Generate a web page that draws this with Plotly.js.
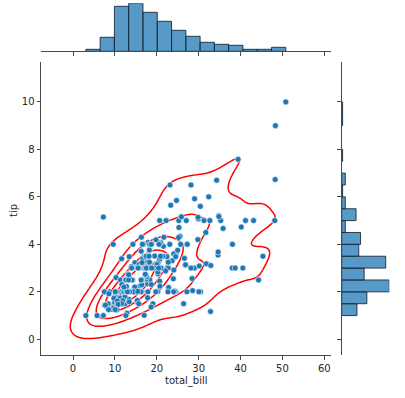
<!DOCTYPE html>
<html><head>
<script src="https://cdn.plot.ly/plotly-3.0.1.min.js"></script>
<style>body{margin:0;background:#fff}</style>
</head><body>
<div id="c" style="width:405px;height:398px"></div>
<script>
const totalBill=[16.99,10.34,21.01,23.68,24.59,25.29,8.77,26.88,15.04,14.78,
10.27,35.26,15.42,18.43,14.83,21.58,10.33,16.29,16.97,20.65,
17.92,20.29,15.77,39.42,19.82,17.81,13.37,12.69,21.7,19.65,
9.55,18.35,15.06,20.69,17.78,24.06,16.31,16.93,18.69,31.27,
16.04,17.46,13.94,9.68,30.4,18.29,22.23,32.4,28.55,18.04,
12.54,10.29,34.81,9.94,25.56,19.49,38.01,26.41,11.24,48.27,
20.29,13.81,11.02,18.29,17.59,20.08,16.45,3.07,20.23,15.01,
12.02,17.07,26.86,25.28,14.73,10.51,17.92,27.2,22.76,17.29,
19.44,16.66,10.07,32.68,15.98,34.83,13.03,18.28,24.71,21.16,
28.97,22.49,5.75,16.32,22.75,40.17,27.28,12.03,21.01,12.46,
11.35,15.38,44.3,22.42,20.92,15.36,20.49,25.21,18.24,14.31,
14.0,7.25,38.07,23.95,25.71,17.31,29.93,10.65,12.43,24.08,
11.69,13.42,14.26,15.95,12.48,29.8,8.52,14.52,11.38,22.82,
19.08,20.27,11.17,12.26,18.26,8.51,10.33,14.15,16.0,13.16,
17.47,34.3,41.19,27.05,16.43,8.35,18.64,11.87,9.78,7.51,
14.07,13.13,17.26,24.55,19.77,29.85,48.17,25.0,13.39,16.49,
21.5,12.66,16.21,13.81,17.51,24.52,20.76,31.71,10.59,10.63,
50.81,15.81,7.25,31.85,16.82,32.9,17.89,14.48,9.6,34.63,
34.65,23.33,45.35,23.17,40.55,20.69,20.9,30.46,18.15,23.1,
15.69,19.81,28.44,15.48,16.58,7.56,10.34,43.11,13.0,13.51,
18.71,12.74,13.0,16.4,20.53,16.47,26.59,38.73,24.27,12.76,
30.06,25.89,48.33,13.27,28.17,12.9,28.15,11.59,7.74,30.14,
12.16,13.42,8.58,15.98,13.42,16.27,10.09,20.45,13.28,22.12,
24.01,15.69,11.61,10.77,15.53,10.07,12.6,32.83,35.83,29.03,
27.18,22.67,17.82,18.78];
const tip=[1.01,1.66,3.5,3.31,3.61,4.71,2.0,3.12,1.96,3.23,
1.71,5.0,1.57,3.0,3.02,3.92,1.67,3.71,3.5,3.35,
4.08,2.75,2.23,7.58,3.18,2.34,2.0,2.0,4.3,3.0,
1.45,2.5,3.0,2.45,3.27,3.6,2.0,3.07,2.31,5.0,
2.24,2.54,3.06,1.32,5.6,3.0,5.0,6.0,2.05,3.0,
2.5,2.6,5.2,1.56,4.34,3.51,3.0,1.5,1.76,6.73,
3.21,2.0,1.98,3.76,2.64,3.15,2.47,1.0,2.01,2.09,
1.97,3.0,3.14,5.0,2.2,1.25,3.08,4.0,3.0,2.71,
3.0,3.4,1.83,5.0,2.03,5.17,2.0,4.0,5.85,3.0,
3.0,3.5,1.0,4.3,3.25,4.73,4.0,1.5,3.0,1.5,
2.5,3.0,2.5,3.48,4.08,1.64,4.06,4.29,3.76,4.0,
3.0,1.0,4.0,2.55,4.0,3.5,5.07,1.5,1.8,2.92,
2.31,1.68,2.5,2.0,2.52,4.2,1.48,2.0,2.0,2.18,
1.5,2.83,1.5,2.0,3.25,1.25,2.0,2.0,2.0,2.75,
3.5,6.7,5.0,5.0,2.3,1.5,1.36,1.63,1.73,2.0,
2.5,2.0,2.74,2.0,2.0,5.14,5.0,3.75,2.61,2.0,
3.5,2.5,2.0,2.0,3.0,3.48,2.24,4.5,1.61,2.0,
10.0,3.16,5.15,3.18,4.0,3.11,2.0,2.0,4.0,3.55,
3.68,5.65,3.5,6.5,3.0,5.0,3.5,2.0,3.5,4.0,
1.5,4.19,2.56,2.02,4.0,1.44,2.0,5.0,2.0,2.0,
4.0,2.01,2.0,2.5,4.0,3.23,3.41,3.0,2.03,2.23,
2.0,5.16,9.0,2.5,6.5,1.1,3.0,1.5,1.44,3.09,
2.2,3.48,1.92,3.0,1.58,2.5,2.0,3.0,2.72,2.88,
2.0,3.0,3.39,1.47,3.0,1.25,1.0,1.17,4.67,5.92,
2.0,2.0,1.75,3.0];
const xTicks=[0,10,20,30,40,50,60];
const yTicks=[0,2,4,6,8,10];
const isoProps=[0.05,0.24,0.43,0.62,0.81];
const xBinCount=14, yBinCount=18;

// ---- Gaussian KDE (Scott bandwidth, like seaborn) ----
const n=totalBill.length;
const mx=totalBill.reduce((a,b)=>a+b,0)/n, my=tip.reduce((a,b)=>a+b,0)/n;
let sxx=0,syy=0,sxy=0;
for(let i=0;i<n;i++){const dx=totalBill[i]-mx,dy=tip[i]-my;sxx+=dx*dx;syy+=dy*dy;sxy+=dx*dy;}
sxx/=(n-1);syy/=(n-1);sxy/=(n-1);
const f=Math.pow(n,-1/6);
const cxx=sxx*f*f,cyy=syy*f*f,cxy=sxy*f*f;
const det=cxx*cyy-cxy*cxy;
const ixx=cyy/det,iyy=cxx/det,ixy=-cxy/det;
const G=200,cut=3;
function lin(a,b,k){const r=[];for(let i=0;i<k;i++)r.push(a+(b-a)*i/(k-1));return r;}
const bwx=Math.sqrt(cxx),bwy=Math.sqrt(cyy);
const gx=lin(Math.min(...totalBill)-cut*bwx,Math.max(...totalBill)+cut*bwx,G);
const gy=lin(Math.min(...tip)-cut*bwy,Math.max(...tip)+cut*bwy,G);
const z=[];const flat=[];
for(let j=0;j<G;j++){const row=[];for(let i=0;i<G;i++){let s=0;
  for(let k=0;k<n;k++){const dx=gx[i]-totalBill[k],dy=gy[j]-tip[k];
    s+=Math.exp(-0.5*(dx*dx*ixx+2*dx*dy*ixy+dy*dy*iyy));}
  row.push(s);flat.push(s);}z.push(row);}
const sorted=flat.slice().sort((a,b)=>b-a);
const tot=sorted.reduce((a,b)=>a+b,0);
const cum=[];let acc=0;for(const v of sorted){acc+=v;cum.push(acc/tot);}
const levels=isoProps.map(p=>{const t=1-p;let idx=cum.findIndex(c=>c>=t);if(idx<0)idx=cum.length-1;return sorted[idx];});

// ---- histogram bins (left-closed, last bin closed, like numpy) ----
function bins(arr,nb){const lo=Math.min(...arr),hi=Math.max(...arr);const w=(hi-lo)/nb;
  const eps=w*2e-4;const st=lo-eps;const sz=w+eps/(nb-0.5);return {start:st,size:sz,end:st+sz*nb};}
const xb=bins(totalBill,xBinCount), yb=bins(tip,yBinCount);
function maxCount(arr,b,nb){const c=new Array(nb+1).fill(0);for(const v of arr){c[Math.floor((v-b.start)/b.size)]++;}return Math.max(...c);}
const mxc=maxCount(totalBill,xb,xBinCount);
const myc=maxCount(tip,yb,yBinCount);

const W=405,H=398;
const L=41,R=331,T=62,B=355;
const xr=[-7.64,61.6], yr=[-0.66,11.68];
const blue='#1f77b4', barFill='rgba(31,119,180,0.75)', barEdge='rgba(20,35,50,0.85)';
const axc='#4a4a4a', txt='#262626';

const traces=[];
levels.forEach(lv=>{traces.push({type:'contour',x:gx,y:gy,z:z,autocontour:false,
  contours:{coloring:'none',start:lv,end:lv,size:lv,showlabels:false},
  line:{color:'#ff0000',width:1.5,smoothing:1},showscale:false,hoverinfo:'skip',xaxis:'x',yaxis:'y'});});
traces.push({type:'scatter',mode:'markers',x:totalBill,y:tip,xaxis:'x',yaxis:'y',
  marker:{color:blue,size:6,line:{color:'#ffffff',width:0.6}},hoverinfo:'x+y'});
traces.push({type:'histogram',x:totalBill,xaxis:'x2',yaxis:'y2',
  xbins:{start:xb.start,end:xb.end,size:xb.size},
  marker:{color:barFill,line:{color:barEdge,width:1}}});
traces.push({type:'histogram',y:tip,xaxis:'x3',yaxis:'y3',orientation:'h',
  ybins:{start:yb.start,end:yb.end,size:yb.size},
  marker:{color:barFill,line:{color:barEdge,width:1}}});

const tickStyle={ticks:'outside',ticklen:3.5,tickwidth:1,tickcolor:axc,showline:true,linecolor:axc,linewidth:1,showgrid:false,zeroline:false};
const layout={width:W,height:H,margin:{l:0,r:0,t:0,b:0},showlegend:false,
  paper_bgcolor:'#fff',plot_bgcolor:'rgba(0,0,0,0)',bargap:0,
  font:{family:'DejaVu Sans, sans-serif',size:10,color:txt},
  xaxis:Object.assign({domain:[L/W,R/W],range:xr,anchor:'y',tickvals:xTicks,ticktext:xTicks.map(String),
    tickfont:{size:10,color:txt}},tickStyle),
  yaxis:Object.assign({domain:[1-B/H,1-T/H],range:yr,anchor:'x',tickvals:yTicks,ticktext:yTicks.map(String),
    tickfont:{size:10,color:txt}},tickStyle),
  xaxis2:Object.assign({domain:[L/W,R/W],range:xr,anchor:'y2',tickvals:xTicks,showticklabels:false},tickStyle),
  yaxis2:{domain:[1-51.3/H,1-3.3/H],range:[0,mxc],anchor:'x2',visible:false,fixedrange:true},
  xaxis3:{domain:[341.7/W,389.3/W],range:[0,myc],anchor:'y3',visible:false},
  yaxis3:Object.assign({domain:[1-B/H,1-T/H],range:yr,anchor:'x3',tickvals:yTicks,showticklabels:false},tickStyle),
  annotations:[
    {text:'total_bill',xref:'paper',yref:'paper',x:186/W,y:1-381/H,xanchor:'center',yanchor:'middle',showarrow:false,font:{size:10,color:txt}},
    {text:'tip',xref:'paper',yref:'paper',x:14/W,y:1-210/H,xanchor:'center',yanchor:'middle',textangle:-90,showarrow:false,font:{size:10,color:txt}}
  ]};
Plotly.newPlot('c',traces,layout,{displayModeBar:false,staticPlot:true});
</script>
</body></html>
